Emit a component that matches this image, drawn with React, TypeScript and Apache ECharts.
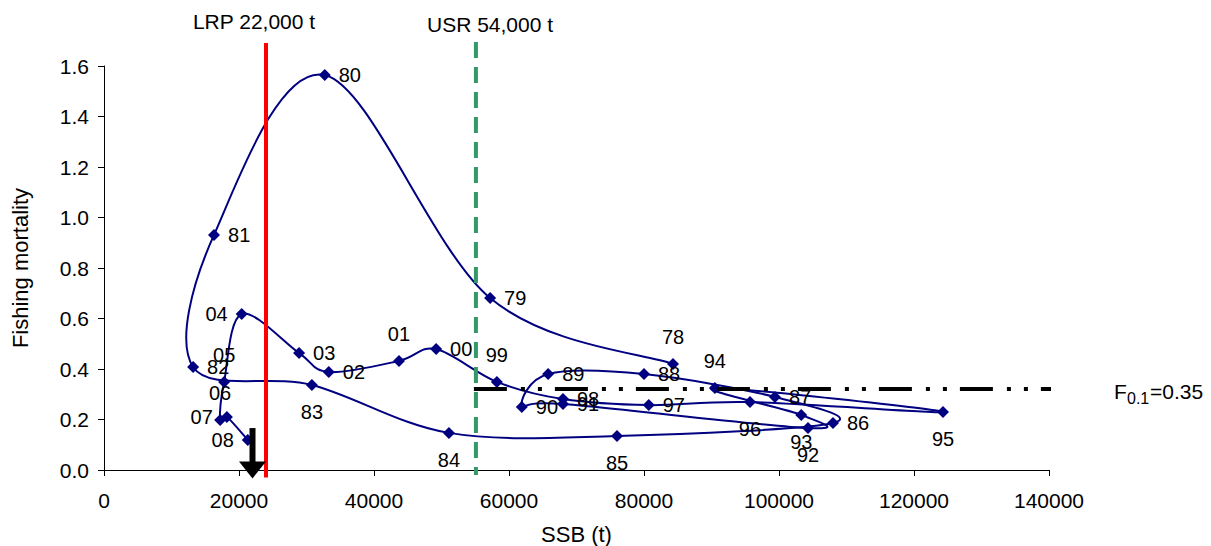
import React, { useEffect, useRef } from "react";
import * as echarts from "echarts";

// ---- data ----
const years = ["78","79","80","81","82","83","84","85","86","87","88","89","90","91","92","93","94","95","96","97","98","99","00","01","02","03","04","05","06","07","08"];
const ssb = [84300, 57200, 32700, 16300, 13200, 30800, 51100, 76000, 108000, 99400, 80000, 65800, 61900, 68000, 104300, 103300, 90500, 124300, 95700, 80700, 68000, 58200, 49200, 43700, 33300, 28900, 20400, 17800, 17200, 18200, 21300];
const fishingMortality = [0.420, 0.681, 1.564, 0.931, 0.408, 0.337, 0.147, 0.135, 0.186, 0.289, 0.380, 0.380, 0.250, 0.261, 0.166, 0.218, 0.325, 0.230, 0.269, 0.257, 0.281, 0.349, 0.479, 0.432, 0.388, 0.463, 0.618, 0.349, 0.198, 0.210, 0.119];

// reference points as drawn
const lrpLine = 24000;
const usrLine = 55100;
const f01Level = 0.321;
const f01Span = [54800, 148700];
const arrowSsb = 22000;

const xTicks = { min: 0, max: 140000, interval: 20000 };
const yTicks = { min: 0, max: 1.6, interval: 0.2 };

// label placement (styling)
const labelSide = ["top","right","right","right","right","bottom","bottom","bottom","right","right","right","right","right","right","bottom","bottom","top","bottom","bottom","right","right","top","right","top","right","right","left","top","top","left","left"];

const FONT = "'Liberation Sans', Arial, sans-serif";
const NAVY = "#000080";

export default function App() {
  const ref = useRef<HTMLDivElement>(null);
  useEffect(() => {
    if (!ref.current) return;
    const chart = echarts.init(ref.current, undefined, { renderer: "svg" });
    const n = years.length;
    const pairs = years.map((_, i) => [ssb[i], fishingMortality[i]]);
    const pts = years.map((y, i) => {
      const side = labelSide[i];
      return {
        value: [ssb[i], fishingMortality[i]],
        label: { position: side, distance: side === "top" || side === "bottom" ? 11 : 8 },
      };
    });
    // Catmull-Rom style smoothing (as in spreadsheet smoothed lines), through the axis scales
    const renderSegment = (params: any, api: any) => {
      const i = params.dataIndex;
      if (i >= n - 1) return null;
      const c = (k: number) => api.coord(pairs[Math.max(0, Math.min(n - 1, k))]);
      const p0 = c(i - 1), p1 = c(i), p2 = c(i + 1), p3 = c(i + 2);
      const t = 1 / 6;
      return {
        type: "bezierCurve",
        shape: {
          x1: p1[0], y1: p1[1],
          cpx1: p1[0] + (p2[0] - p0[0]) * t, cpy1: p1[1] + (p2[1] - p0[1]) * t,
          cpx2: p2[0] - (p3[0] - p1[0]) * t, cpy2: p2[1] - (p3[1] - p1[1]) * t,
          x2: p2[0], y2: p2[1],
        },
        style: { stroke: NAVY, lineWidth: 2, fill: "none" },
        silent: true,
      };
    };
    chart.setOption({
      animation: false,
      grid: { left: 104, right: 162, top: 66, bottom: 76, outerBoundsMode: "none", containLabel: false },
      xAxis: {
        type: "value",
        min: xTicks.min, max: xTicks.max, interval: xTicks.interval,
        name: "SSB (t)", nameLocation: "middle", nameGap: 53,
        nameTextStyle: { color: "#000", fontSize: 22, fontFamily: FONT },
        axisLine: { show: true, lineStyle: { color: "#000", width: 1 } },
        axisTick: { show: true, inside: false, length: 6, lineStyle: { color: "#000" } },
        axisLabel: { color: "#000", fontSize: 21, fontFamily: FONT, margin: 20, formatter: (v: number) => String(v) },
        splitLine: { show: false },
      },
      yAxis: {
        type: "value",
        min: yTicks.min, max: yTicks.max, interval: yTicks.interval,
        name: "Fishing mortality", nameLocation: "middle", nameGap: 73,
        nameTextStyle: { color: "#000", fontSize: 22, fontFamily: FONT },
        axisLine: { show: true, lineStyle: { color: "#000", width: 1 } },
        axisTick: { show: true, inside: false, length: 6, lineStyle: { color: "#000" } },
        axisLabel: { color: "#000", fontSize: 21, fontFamily: FONT, margin: 15, formatter: (v: number) => v.toFixed(1) },
        splitLine: { show: false },
      },
      series: [
        {
          type: "custom",
          renderItem: renderSegment,
          data: pairs,
          encode: { x: 0, y: 1 },
          clip: false,
          silent: true,
          z: 1,
        },
        {
          type: "scatter",
          data: pts,
          symbol: "diamond",
          symbolSize: 12,
          itemStyle: { color: NAVY, opacity: 1 },
          label: {
            show: true,
            color: "#000",
            fontSize: 20,
            fontFamily: FONT,
            formatter: (p: any) => years[p.dataIndex],
          },
          z: 2,
        },
        {
          type: "line",
          data: [[lrpLine, 1.691], [lrpLine, -0.03]],
          symbol: "none",
          clip: false,
          lineStyle: { color: "#ff0000", width: 4 },
          silent: true,
          z: 3,
        },
        {
          type: "line",
          data: [[usrLine, 1.695], [usrLine, -0.02]],
          symbol: "none",
          clip: false,
          lineStyle: { color: "#339966", width: 4, type: [16, 9] },
          silent: true,
          z: 3,
        },
        {
          type: "line",
          data: [[f01Span[0], f01Level], [f01Span[1], f01Level]],
          symbol: "none",
          clip: false,
          lineStyle: { color: "#000", width: 4, type: [33, 14, 4, 13, 4, 13] },
          silent: true,
          z: 3,
        },
        {
          type: "line",
          data: [[arrowSsb, 0.166], [arrowSsb, 0.03]],
          symbol: "none",
          clip: false,
          lineStyle: { color: "#000", width: 6 },
          silent: true,
          z: 4,
        },
        {
          type: "scatter",
          data: [[arrowSsb, 0.0]],
          symbol: "triangle",
          symbolRotate: 180,
          symbolSize: [27, 17],
          clip: false,
          itemStyle: { color: "#000", opacity: 1 },
          silent: true,
          z: 4,
        },
      ],
      graphic: [
        { type: "text", x: 254, y: 21, style: { text: "LRP 22,000 t", fill: "#000", font: `21px ${FONT}`, align: "center", verticalAlign: "middle" } },
        { type: "text", x: 490, y: 24, style: { text: "USR 54,000 t", fill: "#000", font: `21px ${FONT}`, align: "center", verticalAlign: "middle" } },
        { type: "text", x: 1114, y: 391, style: { text: "F", fill: "#000", font: `21px ${FONT}`, align: "left", verticalAlign: "middle" } },
        { type: "text", x: 1127, y: 398, style: { text: "0.1", fill: "#000", font: `16px ${FONT}`, align: "left", verticalAlign: "middle" } },
        { type: "text", x: 1150, y: 391, style: { text: "=0.35", fill: "#000", font: `21px ${FONT}`, align: "left", verticalAlign: "middle" } },
      ],
    });
    return () => chart.dispose();
  }, []);
  return (
    <div
      ref={ref}
      style={{ position: "fixed", left: 0, top: 0, width: 1211, height: 546, background: "#fff" }}
    />
  );
}
